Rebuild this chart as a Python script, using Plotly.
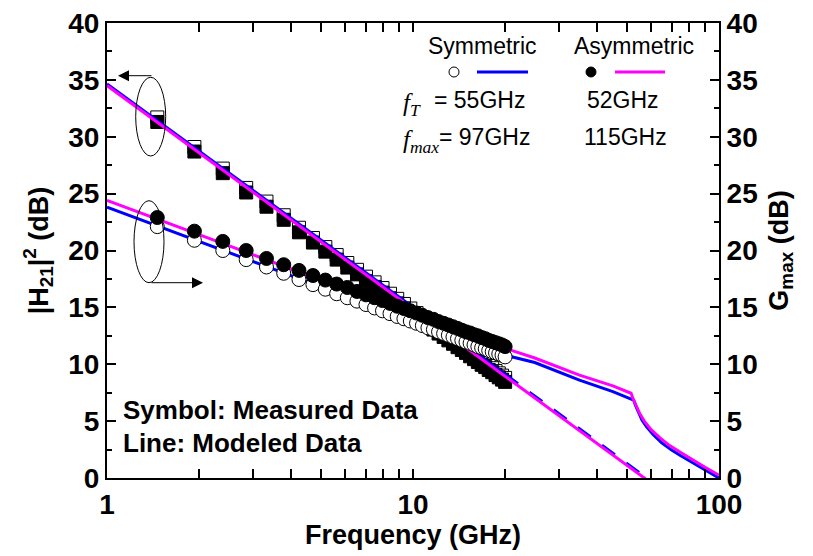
import plotly.graph_objects as go

# ---------------- data ----------------
freq_meas = [1.46, 1.93, 2.39, 2.85, 3.32, 3.78, 4.24, 4.71, 5.17, 5.63, 6.10, 6.56, 7.02, 7.49,
             7.95, 8.41, 8.88, 9.34, 9.80, 10.27, 10.73, 11.19, 11.66, 12.12, 12.59, 13.05, 13.51,
             13.98, 14.44, 14.90, 15.37, 15.83, 16.29, 16.76, 17.22, 17.68, 18.15, 18.61, 19.07,
             19.54, 20.00]

h21_sym_meas = [31.7, 29.1, 27.2, 25.5, 24.3, 23.1, 22.0, 21.1, 20.3, 19.6, 18.9, 18.3, 17.7, 17.2,
                16.7, 16.2, 15.75, 15.3, 14.9, 14.5, 14.1, 13.75, 13.4, 13.05, 12.75, 12.45, 12.15,
                11.85, 11.6, 11.3, 11.05, 10.8, 10.55, 10.3, 10.1, 9.85, 9.65, 9.4, 9.2, 9.0, 8.8]
h21_asym_meas = [31.3, 28.7, 26.8, 25.1, 23.85, 22.7, 21.6, 20.7, 19.9, 19.2, 18.5, 17.9, 17.3, 16.8,
                 16.3, 15.8, 15.35, 14.9, 14.5, 14.1, 13.75, 13.4, 13.05, 12.7, 12.4, 12.1, 11.8,
                 11.5, 11.25, 11.0, 10.7, 10.45, 10.2, 9.95, 9.75, 9.5, 9.3, 9.05, 8.85, 8.65, 8.45]
gmax_sym_meas = [22.1, 20.9, 20.0, 19.2, 18.55, 18.0, 17.45, 17.0, 16.6, 16.2, 15.85, 15.55, 15.25,
                 14.95, 14.7, 14.45, 14.2, 14.0, 13.8, 13.6, 13.4, 13.2, 13.05, 12.85, 12.7, 12.55,
                 12.4, 12.25, 12.1, 11.95, 11.85, 11.7, 11.55, 11.45, 11.35, 11.2, 11.1, 11.0,
                 10.9, 10.8, 10.65]
gmax_asym_meas = [22.9, 21.7, 20.8, 20.0, 19.3, 18.75, 18.25, 17.8, 17.4, 17.05, 16.75, 16.4, 16.1,
                  15.85, 15.6, 15.35, 15.1, 14.9, 14.7, 14.5, 14.3, 14.1, 13.95, 13.75, 13.6, 13.45,
                  13.3, 13.15, 13.0, 12.85, 12.75, 12.6, 12.5, 12.35, 12.25, 12.1, 12.0, 11.9,
                  11.8, 11.7, 11.55]

# modeled |H21|^2
h21_sym_model_f = [1, 2, 5, 10, 20]
h21_sym_model_db = [34.65, 28.74, 20.93, 15.02, 9.11]
h21_sym_model_ext_f = [20, 40, 58, 66]
h21_sym_model_ext_db = [9.11, 3.20, 0.0, -1.1]
h21_asym_model_f = [1, 2, 5, 10, 20, 40, 57, 66]
h21_asym_model_db = [34.5, 28.58, 20.77, 14.85, 8.93, 3.02, 0.0, -1.25]

# modeled Gmax
gmax_sym_model_f = [1, 1.5, 2, 3, 4, 6, 8, 10, 15, 20, 25, 35, 45, 52.6, 53.4, 54.5, 56, 58, 61,
                    65, 70, 75, 82, 90, 100]
gmax_sym_model_db = [23.8, 22.05, 20.8, 19.05, 17.8, 16.05, 14.8, 13.8, 12.05, 10.8, 10.15, 8.6,
                     7.6, 6.85, 6.35, 5.75, 5.1, 4.5, 3.8, 3.1, 2.45, 1.95, 1.35, 0.75, 0.0]
gmax_asym_model_f = [1, 1.5, 2, 3, 4, 6, 8, 10, 15, 20, 25, 35, 45, 51.6, 52.4, 53.5, 55, 57, 60,
                     64, 69, 75, 82, 90, 100]
gmax_asym_model_db = [24.4, 22.65, 21.4, 19.65, 18.4, 16.65, 15.4, 14.4, 12.65, 11.4, 10.55, 9.05,
                      8.1, 7.45, 6.95, 6.4, 5.7, 5.0, 4.25, 3.55, 2.85, 2.25, 1.6, 0.95, 0.25]

tick_vals_x = [1, 10, 100]
tick_text_x = ["1", "10", "100"]
minor_vals_x = [2, 3, 4, 5, 6, 7, 8, 9, 20, 30, 40, 50, 60, 70, 80, 90]

BLUE = "#0000FF"
MAGENTA = "#FF00FF"
SANS = "Liberation Sans, Arial, sans-serif"
SERIF = "Liberation Serif, Times New Roman, serif"

# ---------------- layout geometry ----------------
W, H = 813, 556
L, R, T, B = 107, 94, 23, 78
PW, PH = W - L - R, H - T - B


def px(x):
    return (x - L) / PW


def py(y):
    return (H - B - y) / PH


fig = go.Figure()

# |H21|^2 measured (squares)
fig.add_trace(go.Scatter(x=freq_meas, y=h21_sym_meas, mode="markers", yaxis="y",
                         marker=dict(symbol="square", size=13, color="white",
                                     line=dict(color="black", width=1))))
fig.add_trace(go.Scatter(x=freq_meas, y=h21_asym_meas, mode="markers", yaxis="y",
                         marker=dict(symbol="square", size=13, color="black",
                                     line=dict(color="black", width=1))))
# |H21|^2 modeled
fig.add_trace(go.Scatter(x=h21_sym_model_f, y=h21_sym_model_db, mode="lines", yaxis="y",
                         line=dict(color=BLUE, width=3)))
fig.add_trace(go.Scatter(x=h21_sym_model_ext_f, y=h21_sym_model_ext_db, mode="lines", yaxis="y",
                         line=dict(color=BLUE, width=3, dash="16px,14px")))
fig.add_trace(go.Scatter(x=h21_asym_model_f, y=h21_asym_model_db, mode="lines", yaxis="y",
                         line=dict(color=MAGENTA, width=3)))

# Gmax modeled
fig.add_trace(go.Scatter(x=gmax_sym_model_f, y=gmax_sym_model_db, mode="lines", yaxis="y2",
                         line=dict(color=BLUE, width=3)))
fig.add_trace(go.Scatter(x=gmax_asym_model_f, y=gmax_asym_model_db, mode="lines", yaxis="y2",
                         line=dict(color=MAGENTA, width=3)))
# Gmax measured (circles)
fig.add_trace(go.Scatter(x=freq_meas, y=gmax_sym_meas, mode="markers", yaxis="y2",
                         marker=dict(symbol="circle", size=14, color="white",
                                     line=dict(color="black", width=1))))
fig.add_trace(go.Scatter(x=freq_meas, y=gmax_asym_meas, mode="markers", yaxis="y2",
                         marker=dict(symbol="circle", size=14, color="black",
                                     line=dict(color="black", width=1))))

tickfont = dict(family=SANS, size=28, color="black", weight="bold")
titlefont = dict(family=SANS, size=27, color="black", weight="bold")

fig.update_layout(
    width=W, height=H,
    margin=dict(l=L, r=R, t=T, b=B, autoexpand=False),
    paper_bgcolor="white", plot_bgcolor="white",
    showlegend=False,
    xaxis=dict(type="log", range=[0, 2], tickmode="array", tickvals=tick_vals_x,
               ticktext=tick_text_x,
               ticks="inside", ticklen=9, tickwidth=1.5, tickcolor="black",
               minor=dict(ticks="inside", ticklen=5, tickwidth=1.5, tickcolor="black",
                          tickmode="array", tickvals=minor_vals_x, showgrid=False),
               showline=True, linewidth=2, linecolor="black", mirror="allticks",
               showgrid=False, zeroline=False, tickfont=tickfont,
               title=dict(text="Frequency (GHz)", font=titlefont, standoff=6)),
    yaxis=dict(range=[0, 40], dtick=5, ticks="inside", ticklen=9, tickwidth=1.5,
               tickcolor="black",
               minor=dict(ticks="inside", ticklen=5, tickwidth=1.5, tickcolor="black",
                          dtick=2.5, showgrid=False),
               showline=True, linewidth=2, linecolor="black", showgrid=False,
               zeroline=False, tickfont=tickfont,
               title=dict(text="|H<sub>21</sub>|<sup>2</sup> (dB)", font=titlefont, standoff=12)),
    yaxis2=dict(range=[0, 40], dtick=5, overlaying="y", side="right", ticks="inside",
                ticklen=9, tickwidth=1.5, tickcolor="black",
                minor=dict(ticks="inside", ticklen=5, tickwidth=1.5, tickcolor="black",
                           dtick=2.5, showgrid=False),
                showline=True, linewidth=2, linecolor="black", showgrid=False,
                zeroline=False, tickfont=tickfont,
                title=dict(text="G<sub>max</sub> (dB)", font=titlefont, standoff=12)),
)

# ---------------- custom legend block ----------------
legfont = dict(family=SANS, size=23, color="black")
ann = []
ann.append(dict(x=px(482), y=py(46), text="Symmetric", font=legfont))
ann.append(dict(x=px(634), y=py(46), text="Asymmetric", font=legfont))
ann.append(dict(x=px(401), y=py(104), xanchor="left",
                text="<i>f</i><sub><i>T</i></sub>", font=dict(family=SERIF, size=25, color="black")))
ann.append(dict(x=px(432), y=py(100), xanchor="left", text="= 55GHz", font=legfont))
ann.append(dict(x=px(623), y=py(100), text="52GHz", font=legfont))
ann.append(dict(x=px(401), y=py(141), xanchor="left",
                text="<i>f</i><sub><i>max</i></sub>", font=dict(family=SERIF, size=25, color="black")))
ann.append(dict(x=px(437), y=py(137), xanchor="left", text="= 97GHz", font=legfont))
ann.append(dict(x=px(625), y=py(137), text="115GHz", font=legfont))

notefont = dict(family=SANS, size=26, color="black", weight="bold")
ann.append(dict(x=px(121), y=py(410), xanchor="left", text="Symbol: Measured Data", font=notefont))
ann.append(dict(x=px(121), y=py(443), xanchor="left", text="Line: Modeled Data", font=notefont))

for a in ann:
    a.setdefault("xanchor", "center")
    a.setdefault("yanchor", "middle")
    a.setdefault("xref", "paper")
    a.setdefault("yref", "paper")
    a.setdefault("showarrow", False)
    fig.add_annotation(**a)

# arrows from the ellipses to the axes
fig.add_annotation(x=px(118), y=py(75.7), xref="paper", yref="paper", text="",
                   showarrow=True, ax=35, ay=0, arrowhead=2, arrowsize=2.2, arrowwidth=1,
                   arrowcolor="black")
fig.add_annotation(x=px(203), y=py(282.7), xref="paper", yref="paper", text="",
                   showarrow=True, ax=-53, ay=0, arrowhead=2, arrowsize=2.2, arrowwidth=1,
                   arrowcolor="black")

shapes = [
    # ellipses
    dict(type="circle", xref="paper", yref="paper", x0=px(135.7), x1=px(165.7),
         y0=py(156), y1=py(77.3), line=dict(color="black", width=1)),
    dict(type="circle", xref="paper", yref="paper", x0=px(134), x1=px(164),
         y0=py(282.7), y1=py(200.7), line=dict(color="black", width=1)),
    # legend keys
    dict(type="circle", xref="paper", yref="paper", x0=px(449), x1=px(459),
         y0=py(77), y1=py(67), fillcolor="white", line=dict(color="black", width=1)),
    dict(type="line", xref="paper", yref="paper", x0=px(477), x1=px(528),
         y0=py(72), y1=py(72), line=dict(color=BLUE, width=3)),
    dict(type="circle", xref="paper", yref="paper", x0=px(586), x1=px(596),
         y0=py(77), y1=py(67), fillcolor="black", line=dict(color="black", width=1)),
    dict(type="line", xref="paper", yref="paper", x0=px(615), x1=px(665),
         y0=py(72), y1=py(72), line=dict(color=MAGENTA, width=3)),
]
for s in shapes:
    fig.add_shape(**s)

fig.write_html("out.html")
